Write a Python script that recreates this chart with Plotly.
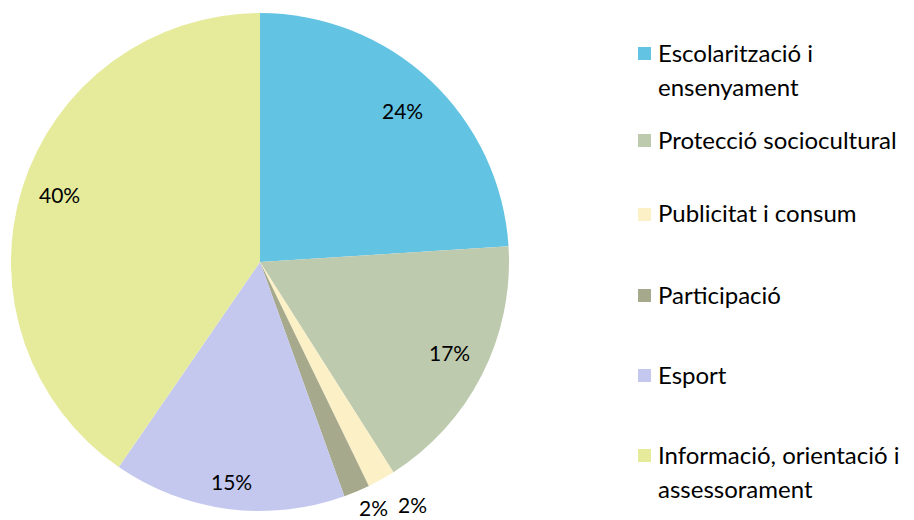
import math
import plotly.graph_objects as go

categories = ["Escolarització i<br>ensenyament", "Protecció sociocultural", "Publicitat i consum",
              "Participació", "Esport", "Informació, orientació i<br>assessorament"]
values = [24.0, 17.0, 1.8, 1.7, 15.1, 40.4]
colors = ["#62C3E2", "#BECAAE", "#FCF0C6", "#A6A98C", "#C4C8EE", "#E6EB9C"]
label_radius = [0.835, 0.845, 1.15, 1.085, 0.89, 0.85]  # fraction of pie radius for % labels
label_shift = [0, -1.5, -3, -2, 0, 1.3]  # small angular nudges (degrees) for label placement

FONT = "Lato"
W, H = 914, 520
OFF = 8  # page body margin


def px(x):
    return (x - OFF) / W


def py(y):
    return 1 - (y - OFF) / H


# pie geometry (in page pixels)
CX, CY, R = 260, 262, 249

fig = go.Figure()
fig.add_trace(go.Pie(
    labels=[c.replace("<br>", " ") for c in categories],
    values=values,
    sort=False,
    direction="clockwise",
    rotation=0,
    marker=dict(colors=colors, line=dict(width=0)),
    textinfo="none",
    domain=dict(x=[px(CX - R), px(CX + R)], y=[py(CY + R), py(CY - R)]),
    showlegend=False,
    hoverinfo="label+percent",
))

# percentage labels, placed at each slice's mid-angle
total = sum(values)
cum = 0
for v, f, sh in zip(values, label_radius, label_shift):
    mid = (cum + v / 2) / total * 2 * math.pi + math.radians(sh)
    cum += v
    lx = CX + f * R * math.sin(mid)
    ly = CY - f * R * math.cos(mid)
    fig.add_annotation(text=f"{round(v / total * 100)}%", xref="paper", yref="paper",
                       x=px(lx), y=py(ly), xanchor="center", yanchor="middle", showarrow=False,
                       font=dict(family=FONT, size=21, color="#000000"))

# manual legend
entry_y = [52, 139, 213, 294, 374, 454]  # top-line centres in px
line_gap = 34
for cat, col, yc in zip(categories, colors, entry_y):
    lines = cat.split("<br>")
    fig.add_shape(type="rect", xref="paper", yref="paper",
                  x0=px(638), x1=px(651), y0=py(yc + 8), y1=py(yc - 5),
                  fillcolor=col, line=dict(width=0))
    for i, ln in enumerate(lines):
        fig.add_annotation(text=ln, xref="paper", yref="paper",
                           x=px(656), y=py(yc + i * line_gap), xanchor="left", yanchor="middle",
                           showarrow=False, font=dict(family=FONT, size=24, color="#000000"))

fig.update_layout(width=W, height=H, margin=dict(l=0, r=0, t=0, b=0),
                  paper_bgcolor="white", plot_bgcolor="white")
fig.write_html("out.html")
